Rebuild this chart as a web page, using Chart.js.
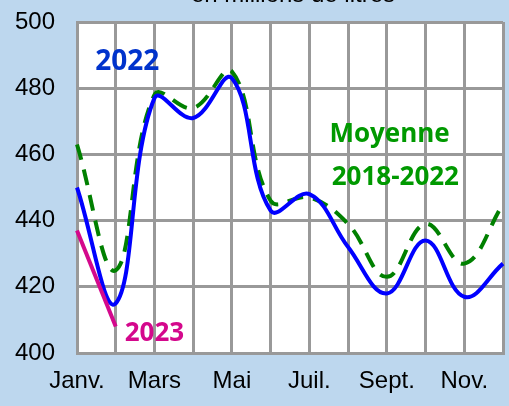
<!DOCTYPE html>
<html>
<head>
<meta charset="utf-8">
<script src="https://cdn.jsdelivr.net/npm/chart.js@4"></script>
<style>
  html, body { margin: 0; padding: 0; background: #bdd7ee; }
  #wrap { width: 509px; height: 406px; position: relative; }
</style>
</head>
<body>
<div id="wrap"><canvas id="c"></canvas></div>
<script>
// Données (millions de litres)
const mois = ['Janv.', 'Févr.', 'Mars', 'Avr.', 'Mai', 'Juin', 'Juil.', 'Août', 'Sept.', 'Oct.', 'Nov.', 'Déc.'];
const serie2022 = [450, 415, 477, 471, 483, 443, 448, 432, 418, 434, 417, 427];
const moyenne = [463, 425, 478, 474, 485, 446, 447, 439, 423, 439, 427, 445];
const serie2023 = [437, 408];
const yTicks = [400, 420, 440, 460, 480, 500];

// Étiquettes posées en coordonnées des axes
const etiquettes = [
  { txt: '2022', x: 1.3, y: 488, color: '#0033cc', size: 28 },
  { txt: 'Moyenne', x: 8.07, y: 466, color: '#009900', size: 26 },
  { txt: '2018-2022', x: 8.22, y: 453, color: '#009900', size: 26 },
  { txt: '2023', x: 2.0, y: 406, color: '#d4088c', size: 26 }
];

// fond blanc de la zone de tracé
const fondBlanc = {
  id: 'fondBlanc',
  beforeDraw(chart) {
    const { ctx, chartArea: a } = chart;
    ctx.save();
    ctx.fillStyle = '#fff';
    ctx.fillRect(a.left, a.top, a.right - a.left, a.bottom - a.top);
    ctx.restore();
  }
};

const textes = {
  id: 'textes',
  afterDatasetsDraw(chart) {
    const { ctx, scales } = chart;
    ctx.save();
    ctx.textAlign = 'center';
    ctx.textBaseline = 'middle';
    etiquettes.forEach(e => {
      ctx.font = 'bold ' + e.size + 'px "Open Sans", "Liberation Sans", sans-serif';
      ctx.fillStyle = e.color;
      ctx.fillText(e.txt, scales.x.getPixelForValue(e.x), scales.y.getPixelForValue(e.y));
    });
    // titre coupé en haut
    ctx.font = '24px "Liberation Sans", Arial, sans-serif';
    ctx.fillStyle = '#000';
    ctx.textBaseline = 'alphabetic';
    ctx.fillText('en millions de litres', 293, 2);
    ctx.restore();
  }
};

const police = { family: '"Liberation Sans", Arial, sans-serif', size: 24 };

new Chart(document.getElementById('c'), {
  type: 'line',
  data: {
    labels: mois,
    datasets: [
      { data: serie2023, borderColor: '#d4088c', borderWidth: 4, pointRadius: 0, tension: 0, order: 0 },
      { data: serie2022, borderColor: '#0000ff', borderWidth: 4, pointRadius: 0, tension: 0.4, order: 1 },
      { data: moyenne, borderColor: '#008000', borderWidth: 4, borderDash: [16, 10], pointRadius: 0, tension: 0.4, order: 2 }
    ]
  },
  options: {
    responsive: true,
    maintainAspectRatio: false,
    animation: false,
    layout: { padding: { top: 22, right: 6, left: 0, bottom: 0 } },
    plugins: { legend: { display: false }, tooltip: { enabled: false } },
    scales: {
      x: {
        offset: false,
        grid: { color: '#999', lineWidth: 3, drawTicks: false },
        border: { color: '#999', width: 3 },
        ticks: {
          autoSkip: false, maxRotation: 0, padding: 14, color: '#000', font: police,
          callback: (v, i) => (i % 2 === 0 ? mois[i] : '')
        },
        afterFit: s => { s.height = 53; s.paddingLeft = 0; s.paddingRight = 0; }
      },
      y: {
        min: 400, max: 500,
        afterBuildTicks: s => { s.ticks = yTicks.map(v => ({ value: v })); },
        grid: { color: '#999', lineWidth: 3, drawTicks: false },
        border: { color: '#999', width: 3 },
        ticks: { padding: 22, color: '#000', font: police },
        afterFit: s => { s.width = 77; s.paddingTop = 0; s.paddingBottom = 0; }
      }
    }
  },
  plugins: [fondBlanc, textes]
});
</script>
</body>
</html>
